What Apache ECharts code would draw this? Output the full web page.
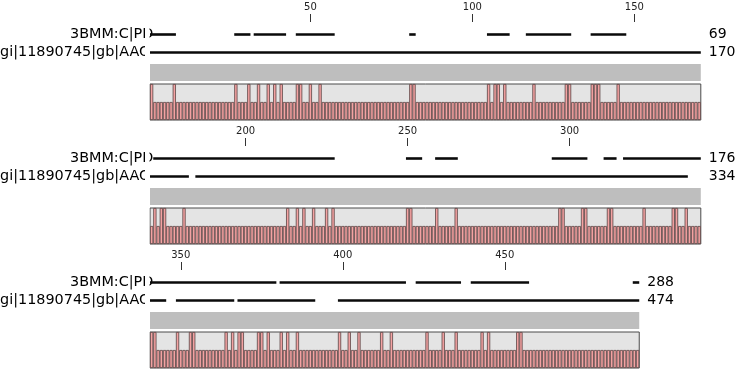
<!DOCTYPE html>
<html><head><meta charset="utf-8">
<script src="https://cdn.jsdelivr.net/npm/echarts@6/dist/echarts.min.js"></script>
<style>html,body{margin:0;padding:0;background:#fff}#c{width:738px;height:376px}</style>
</head><body><div id="c"></div>
<script>
// ---- data ----
const seqNames = ['3BMM:C|PD', 'gi|11890745|gb|AAG'];
const rowStarts = [1, 171, 341];
const rowLengths = [170, 170, 151];
const rulerTicks = [[50, 100, 150], [200, 250, 300], [350, 400, 450]];
const rowEndCounts3BMM = [69, 176, 288];
const rowEndCountsGi = [170, 334, 474];
const segments3BMM = [
  [1, 8], [27, 31], [33, 42], [46, 57], [81, 82], [105, 111], [117, 130], [137, 147],
  [172, 227], [250, 254], [259, 265], [295, 305], [311, 314], [317, 340],
  [341, 379], [381, 419], [423, 436], [440, 457], [490, 491]
];
const segmentsGi = [
  [1, 170],
  [171, 182], [185, 336],
  [341, 345], [349, 366], [368, 391], [399, 491]
];
const fullHeightColumns = [
  1, 8, 27, 31, 34, 37, 39, 41, 46, 47, 50, 53, 81, 82, 105, 107, 108, 110, 119, 129, 130, 137, 138, 139, 145,
  172, 174, 175, 181, 213, 216, 218, 221, 225, 227, 250, 251, 259, 265, 297, 298, 304, 305, 312, 313, 323, 332, 333, 336,
  341, 342, 349, 353, 354, 364, 366, 368, 369, 374, 375, 377, 381, 383, 386, 399, 402, 405, 412, 415, 426, 431, 435, 443, 445, 454, 455
];
const FULL = 2, HALF = 1;

// ---- layout ----
const COL = 3.24, LEFT = 150, ROWH = 124;
const FONT = 'DejaVu Sans';

const grids = [], xAxes = [], yAxes = [], series = [];
const fullSet = new Set(fullHeightColumns);

function segRender(params, api) {
  const a = api.value(0), b = api.value(1), k = api.value(2);
  const p1 = api.coord([a - 0.5, k]);
  const p2 = api.coord([b + 0.5, k]);
  return {
    type: 'line',
    shape: { x1: p1[0], y1: p1[1] + 0.5, x2: p2[0], y2: p2[1] + 0.5 },
    style: { stroke: '#0a0a0a', lineWidth: 2.6, lineCap: 'butt' }
  };
}

for (let r = 0; r < 3; r++) {
  const s = rowStarts[r], n = rowLengths[r], e = s + n - 1;
  const w = n * COL, y0 = r * ROWH;
  const gSeq = grids.length;
  grids.push({ left: LEFT, top: y0 + 25, width: w, height: 36, outerBoundsMode: 'none', containLabel: false });
  const xSeq = xAxes.length;
  xAxes.push({
    gridIndex: gSeq, type: 'value', min: s - 0.5, max: e + 0.5, position: 'top', offset: 3,
    axisLine: { show: false },
    axisTick: { show: true, customValues: rulerTicks[r], length: 8, lineStyle: { color: '#333', width: 1 } },
    axisLabel: { customValues: rulerTicks[r], margin: 10, fontSize: 10, color: '#222', fontFamily: FONT },
    splitLine: { show: false }
  });
  const ySeq = yAxes.length;
  yAxes.push({
    gridIndex: gSeq, type: 'category', data: seqNames, inverse: true,
    axisLine: { show: false }, axisTick: { show: false }, splitLine: { show: false },
    axisLabel: {
      interval: 0, align: 'left', margin: 150,
      formatter: v => (v === seqNames[0] ? '{a|' + v + '}' : '{b|' + v + '}'),
      rich: {
        a: { fontSize: 14.4, fontFamily: FONT, color: '#000', padding: [0, 0, 0, 70] },
        b: { fontSize: 14.4, fontFamily: FONT, color: '#000' }
      }
    }
  });
  yAxes.push({
    gridIndex: gSeq, type: 'category', position: 'right', inverse: true,
    data: [String(rowEndCounts3BMM[r]), String(rowEndCountsGi[r])],
    axisLine: { show: false }, axisTick: { show: false }, splitLine: { show: false },
    axisLabel: { interval: 0, align: 'left', margin: 8, fontSize: 14, fontFamily: FONT, color: '#000' }
  });
  const segData = [];
  segments3BMM.filter(p => p[0] >= s && p[1] <= e).forEach(p => segData.push([p[0], p[1], 0]));
  segmentsGi.filter(p => p[0] >= s && p[1] <= e).forEach(p => segData.push([p[0], p[1], 1]));
  series.push({
    type: 'custom', xAxisIndex: xSeq, yAxisIndex: ySeq, data: segData,
    encode: { x: [0, 1], y: 2 }, renderItem: segRender, silent: true
  });

  // grey annotation band
  const gGrey = grids.length;
  grids.push({ left: LEFT, top: y0 + 64, width: w, height: 17, show: true, backgroundColor: '#bebebe', borderWidth: 0, outerBoundsMode: 'none' });
  xAxes.push({ gridIndex: gGrey, type: 'value', min: 0, max: 1, show: false });
  yAxes.push({ gridIndex: gGrey, type: 'value', min: 0, max: 1, show: false });

  // histogram panel
  const gBar = grids.length;
  grids.push({ left: LEFT, top: y0 + 84, width: w, height: 36, show: true, backgroundColor: '#e4e4e4', borderColor: '#4a4a4a', borderWidth: 1, outerBoundsMode: 'none' });
  const cols = [], vals = [];
  for (let c = s; c <= e; c++) { cols.push(String(c)); vals.push(fullSet.has(c) ? FULL : HALF); }
  const xBar = xAxes.length;
  xAxes.push({ gridIndex: gBar, type: 'category', data: cols, show: false });
  const yBar = yAxes.length;
  yAxes.push({ gridIndex: gBar, type: 'value', min: 0, max: 2, show: false });
  series.push({
    type: 'bar', xAxisIndex: xBar, yAxisIndex: yBar, data: vals,
    barCategoryGap: '0%', barGap: '0%', silent: true,
    itemStyle: { color: '#f4a2a2', borderColor: '#5a4444', borderWidth: 0.8 }
  });
}

const chart = echarts.init(document.getElementById('c'), null, { renderer: 'canvas' });
chart.setOption({
  animation: false,
  backgroundColor: '#ffffff',
  grid: grids, xAxis: xAxes, yAxis: yAxes, series: series,
  graphic: [{ type: 'rect', left: 145, top: 0, shape: { width: 4.5, height: 376 }, style: { fill: '#ffffff' }, z: 100, silent: true }]
});
</script></body></html>
